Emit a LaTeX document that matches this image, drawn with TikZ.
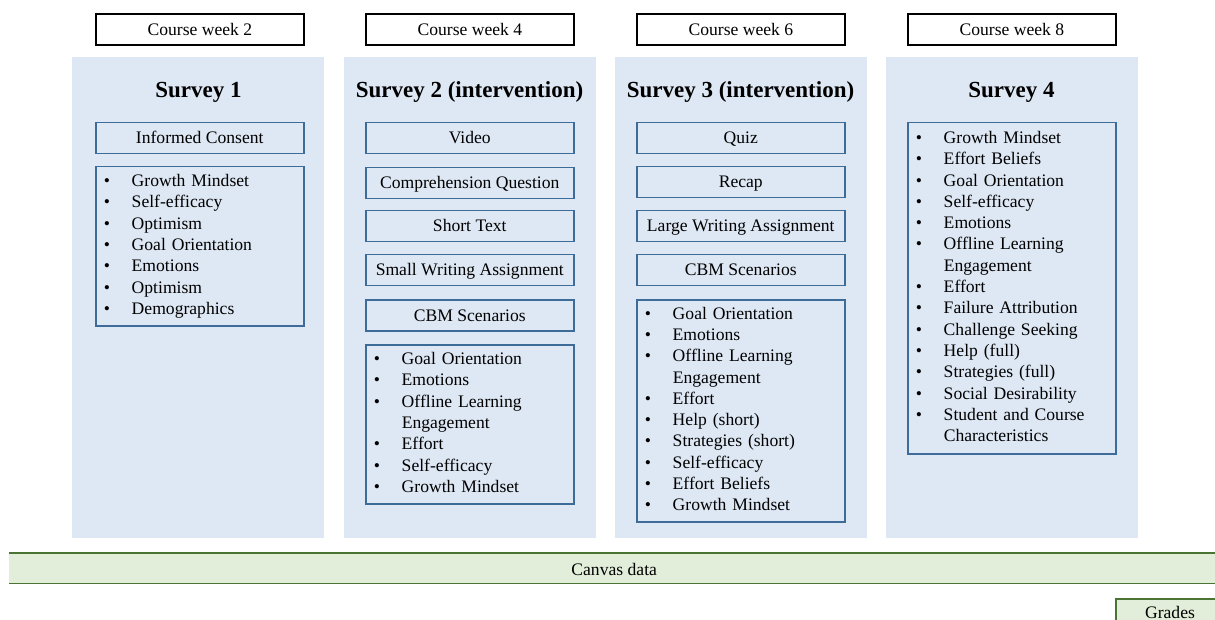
\documentclass[tikz,border=0pt]{standalone}
\usepackage{fontspec}
\setmainfont{Liberation Serif}
\definecolor{panelblue}{HTML}{DEE8F4}
\definecolor{boxblue}{HTML}{3E6C98}
\definecolor{barfill}{HTML}{E2EED9}
\definecolor{barline}{HTML}{4A7433}
\newcommand\lsitem{\strut\makebox[28pt][l]{\textbullet}}
\newcommand\lscont{\strut\hspace*{28pt}}
\tikzset{
  body/.style={font=\fontsize{17.6}{21.3}\selectfont},
  week/.style={body, draw=black, line width=1.7pt, minimum width=208pt, minimum height=31pt, inner sep=0pt, text height=15.5pt, text depth=3.5pt, anchor=north west},
  panel/.style={fill=panelblue, draw=none, minimum width=252pt, minimum height=481pt, inner sep=0pt, anchor=north west},
  title/.style={font=\fontsize{23}{27}\selectfont\bfseries},
  stepbox/.style={body, draw=boxblue, line width=1.5pt, minimum width=208pt, minimum height=31pt, inner sep=0pt, text height=15pt, text depth=3.5pt, anchor=north west},
  listbox/.style={body, draw=boxblue, line width=1.5pt, text width=192pt, inner xsep=8pt, inner ysep=0pt, align=left, anchor=north west},
  bar/.style={body, fill=barfill, draw=none, inner sep=0pt, anchor=north west},
  barrule/.style={draw=barline, line width=1.8pt},
}
\begin{document}
\begin{tikzpicture}[x=1pt, y=-1pt]
\useasboundingbox (0,0) rectangle (1215,620);
\clip (0,0) rectangle (1215,620);

% week labels
\node[week] (w2) at (95,13)  {Course week 2};
\node[week] (w4) at (365,13) {Course week 4};
\node[week] (w6) at (636,13) {Course week 6};
\node[week] (w8) at (907,13) {Course week 8};

% survey panels
\node[panel] (p1) at (72,57)  {};
\node[panel] (p2) at (344,57) {};
\node[panel] (p3) at (615,57) {};
\node[panel] (p4) at (886,57) {};

\node[title] (t1) at (198.5,92) {Survey 1};
\node[title] (t2) at (469.5,92) {Survey 2 (intervention)};
\node[title] (t3) at (740.5,92) {Survey 3 (intervention)};
\node[title] (t4) at (1011.5,92) {Survey 4};

% Survey 1
\node[stepbox] (s1a) at (95,122) {Informed Consent};
\node[listbox, minimum height=159pt] (s1l) at (95,166) {%
\lsitem Growth Mindset\\
\lsitem Self-efficacy\\
\lsitem Optimism\\
\lsitem Goal Orientation\\
\lsitem Emotions\\
\lsitem Optimism\\
\lsitem Demographics};

% Survey 2
\node[stepbox] (s2a) at (365,122) {Video};
\node[stepbox] (s2b) at (365,167) {Comprehension Question};
\node[stepbox] (s2c) at (365,210) {Short Text};
\node[stepbox] (s2d) at (365,254) {Small Writing Assignment};
\node[stepbox] (s2e) at (365,299) {CBM Scenarios};
\node[listbox, minimum height=159pt] (s2l) at (365,344) {%
\lsitem Goal Orientation\\
\lsitem Emotions\\
\lsitem Offline Learning\\
\lscont Engagement\\
\lsitem Effort\\
\lsitem Self-efficacy\\
\lsitem Growth Mindset};

% Survey 3
\node[stepbox] (s3a) at (636,122) {Quiz};
\node[stepbox] (s3b) at (636,166) {Recap};
\node[stepbox] (s3c) at (636,210) {Large Writing Assignment};
\node[stepbox] (s3d) at (636,254) {CBM Scenarios};
\node[listbox, minimum height=222pt] (s3l) at (636,299) {%
\lsitem Goal Orientation\\
\lsitem Emotions\\
\lsitem Offline Learning\\
\lscont Engagement\\
\lsitem Effort\\
\lsitem Help (short)\\
\lsitem Strategies (short)\\
\lsitem Self-efficacy\\
\lsitem Effort Beliefs\\
\lsitem Growth Mindset};

% Survey 4
\node[listbox, minimum height=331pt] (s4l) at (907,122) {%
\lsitem Growth Mindset\\
\lsitem Effort Beliefs\\
\lsitem Goal Orientation\\
\lsitem Self-efficacy\\
\lsitem Emotions\\
\lsitem Offline Learning\\
\lscont Engagement\\
\lsitem Effort\\
\lsitem Failure Attribution\\
\lsitem Challenge Seeking\\
\lsitem Help (full)\\
\lsitem Strategies (full)\\
\lsitem Social Desirability\\
\lsitem Student and Course\\
\lscont Characteristics};

% data sources
\node[bar, minimum width=1210pt, minimum height=30pt] (canvas) at (9,553) {};
\node[body] (canvaslbl) at ([yshift=-1.5pt]canvas.center) {Canvas data};
\draw[barrule] (canvas.north west) -- (canvas.north east);
\draw[barrule] (canvas.south west) -- (canvas.south east);

\node[bar, draw=barline, line width=1.8pt, minimum width=110pt, minimum height=30pt] (grades) at (1115,598) {};
\node[body, inner sep=0pt, anchor=base] (gradeslbl) at (1170,618.5) {Grades};
\end{tikzpicture}
\end{document}
